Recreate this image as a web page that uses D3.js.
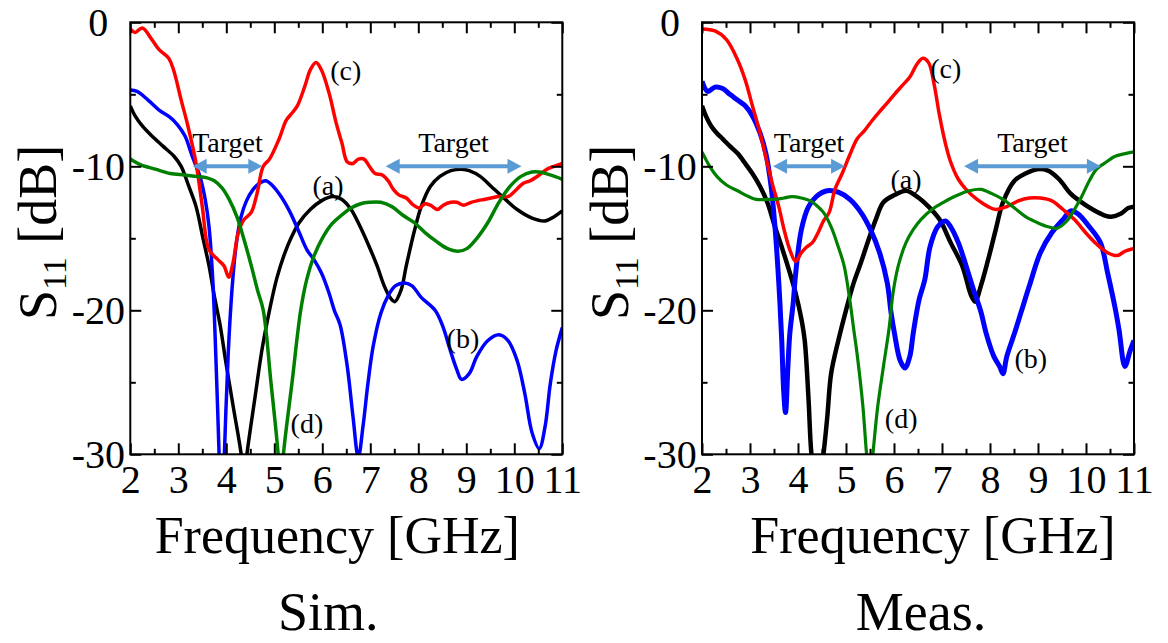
<!DOCTYPE html>
<html>
<head>
<meta charset="utf-8">
<script src="https://cdn.jsdelivr.net/npm/d3@7"></script>
<style>
  body { margin: 0; background: #fff; }
  svg { display: block; }
  text { font-family: "Liberation Serif", "Times New Roman", serif; fill: #000; }
</style>
</head>
<body>
<svg id="chart" width="1168" height="643"></svg>
<script>
// ---- axis ticks ----
const freqTicks = [2, 3, 4, 5, 6, 7, 8, 9, 10, 11];
const freqMinorTicks = [2.5, 3.5, 4.5, 5.5, 6.5, 7.5, 8.5, 9.5, 10.5];
const dbTicks = [0, -10, -20, -30];
const dbMinorTicks = [-5, -15, -25];

// ---- series: [frequency GHz, S11 dB] ----
const simA = [[2,-5.8],[2.1,-6.5],[2.25,-7.2],[2.45,-7.9],[2.68,-8.6],[2.91,-9.3],[3.06,-10.0],[3.22,-11.4],[3.37,-12.8],[3.52,-15.1],[3.64,-16.9],[3.75,-19.0],[3.87,-21.0],[4.0,-23.8],[4.15,-26.8],[4.31,-30],[4.37,-32],[4.43,-30],[4.6,-26],[4.75,-22.6],[4.9,-20],[5.05,-17.8],[5.2,-16.2],[5.36,-14.9],[5.52,-13.9],[5.75,-13.0],[5.98,-12.4],[6.22,-12.1],[6.41,-12.3],[6.6,-13.0],[6.79,-14.2],[6.98,-15.6],[7.14,-16.9],[7.29,-18.3],[7.41,-19.1],[7.51,-19.4],[7.64,-18.6],[7.75,-16.9],[7.91,-14.6],[8.06,-12.8],[8.25,-11.4],[8.45,-10.7],[8.68,-10.3],[8.91,-10.2],[9.06,-10.3],[9.29,-10.7],[9.52,-11.4],[9.75,-12.1],[10.06,-13.0],[10.37,-13.6],[10.64,-13.8],[10.83,-13.5],[11,-13.1]];
const simB = [[2,-4.7],[2.14,-4.8],[2.37,-5.4],[2.6,-6.1],[2.83,-6.6],[2.98,-7.1],[3.14,-7.9],[3.29,-9.3],[3.45,-10.7],[3.56,-12.3],[3.64,-14.2],[3.72,-18],[3.78,-23],[3.85,-30],[3.905,-36],[3.96,-30],[4.04,-23],[4.12,-18.5],[4.2,-15.6],[4.3,-13.6],[4.42,-12.4],[4.56,-11.6],[4.68,-11.2],[4.82,-11.0],[4.95,-11.3],[5.14,-12.1],[5.33,-13.2],[5.52,-14.6],[5.68,-15.8],[5.83,-16.5],[5.98,-17.4],[6.14,-18.8],[6.25,-20],[6.37,-21.0],[6.52,-23.9],[6.64,-27.4],[6.75,-30.2],[6.85,-28.0],[6.95,-25.1],[7.06,-22.5],[7.22,-20.2],[7.37,-19.0],[7.52,-18.3],[7.72,-18.1],[7.87,-18.3],[8.06,-19.1],[8.35,-20.0],[8.52,-21.2],[8.64,-22.5],[8.8,-24.1],[8.9,-24.8],[9.06,-24.4],[9.22,-23.2],[9.45,-22.1],[9.68,-21.7],[9.87,-22.1],[10.06,-23.5],[10.22,-25.8],[10.37,-28.5],[10.52,-29.6],[10.64,-28.1],[10.75,-25.1],[10.87,-22.8],[11,-21.2]];
const simC = [[2,-0.46],[2.1,-0.7],[2.25,-0.4],[2.45,-1.2],[2.6,-1.9],[2.8,-2.5],[2.9,-3.3],[3.06,-5.4],[3.2,-7.2],[3.37,-9.8],[3.5,-12.8],[3.64,-15.8],[3.83,-16.5],[3.95,-16.9],[4.05,-17.7],[4.14,-16.7],[4.25,-14.6],[4.37,-13.7],[4.52,-13.2],[4.64,-11.9],[4.77,-10.0],[4.9,-9.5],[5.1,-8.1],[5.25,-6.8],[5.37,-6.3],[5.48,-5.8],[5.64,-4.4],[5.75,-3.3],[5.87,-2.8],[5.98,-3.3],[6.14,-4.9],[6.29,-7.0],[6.41,-8.4],[6.52,-9.7],[6.64,-9.8],[6.75,-9.5],[6.87,-9.5],[6.98,-10.0],[7.1,-10.5],[7.25,-10.6],[7.37,-11.0],[7.48,-11.6],[7.6,-12.0],[7.75,-12.2],[7.9,-12.7],[8.02,-12.9],[8.14,-12.6],[8.25,-12.7],[8.4,-13.0],[8.52,-12.7],[8.68,-12.5],[8.8,-12.5],[8.95,-12.7],[9.1,-12.5],[9.22,-12.4],[9.37,-12.3],[9.52,-12.2],[9.68,-12.1],[9.87,-12.1],[10.02,-11.7],[10.18,-11.2],[10.33,-11.0],[10.52,-10.6],[10.68,-10.2],[10.83,-10.0],[11,-9.8]];
const simD = [[2,-9.5],[2.22,-9.9],[2.52,-10.2],[2.83,-10.5],[3.14,-10.6],[3.37,-10.7],[3.6,-10.8],[3.75,-11.0],[3.91,-11.5],[4.06,-12.3],[4.22,-13.5],[4.37,-15.1],[4.52,-16.9],[4.65,-18.6],[4.77,-20],[4.93,-25],[5.08,-30],[5.13,-33],[5.19,-30],[5.37,-25],[5.55,-20],[5.68,-17.8],[5.83,-16.2],[6.0,-15.0],[6.2,-14.0],[6.4,-13.4],[6.6,-12.9],[6.8,-12.6],[6.98,-12.5],[7.22,-12.5],[7.45,-12.8],[7.68,-13.4],[7.91,-13.9],[8.14,-14.6],[8.37,-15.2],[8.6,-15.7],[8.83,-15.9],[9.02,-15.7],[9.22,-15.0],[9.45,-13.9],[9.68,-12.5],[9.91,-11.4],[10.14,-10.7],[10.37,-10.4],[10.52,-10.4],[10.75,-10.6],[11,-10.9]];

const measA = [[2,-5.8],[2.08,-6.5],[2.19,-7.2],[2.31,-7.7],[2.43,-8.1],[2.58,-8.6],[2.74,-9.1],[2.9,-9.8],[3.05,-10.5],[3.21,-11.4],[3.36,-12.5],[3.52,-14.2],[3.68,-15.8],[3.83,-17.4],[3.95,-18.8],[4.07,-20.6],[4.14,-22.1],[4.22,-26.2],[4.28,-30],[4.4,-33],[4.53,-30],[4.61,-27.4],[4.69,-24.4],[4.84,-22.1],[5.0,-20],[5.16,-18.1],[5.31,-16.7],[5.47,-15.1],[5.62,-13.7],[5.78,-12.5],[6.01,-12.0],[6.25,-11.7],[6.48,-12.1],[6.72,-12.8],[6.95,-13.7],[7.18,-15.3],[7.42,-16.9],[7.61,-19.0],[7.69,-19.4],[7.81,-18.3],[7.96,-16.5],[8.12,-14.4],[8.27,-12.5],[8.51,-11.0],[8.74,-10.5],[8.98,-10.2],[9.21,-10.3],[9.44,-10.9],[9.68,-11.9],[9.91,-12.5],[10.14,-13.0],[10.38,-13.4],[10.53,-13.5],[10.72,-13.3],[10.88,-12.9],[11,-12.8]];
const measB = [[2,-4.1],[2.12,-4.8],[2.27,-4.5],[2.43,-4.6],[2.58,-5.0],[2.74,-5.4],[2.9,-5.8],[3.05,-6.5],[3.21,-7.7],[3.33,-9.1],[3.44,-11.4],[3.52,-14.2],[3.6,-18.1],[3.66,-22],[3.7,-25.5],[3.74,-27.1],[3.79,-23.9],[3.83,-21.6],[3.9,-19.5],[3.95,-17.5],[4.07,-14.4],[4.22,-12.8],[4.38,-12.1],[4.61,-11.7],[4.84,-11.8],[5.08,-12.3],[5.31,-13.2],[5.51,-14.4],[5.7,-16.0],[5.86,-18.1],[5.94,-20.2],[6.01,-21.6],[6.13,-23.5],[6.23,-24.0],[6.33,-23.2],[6.4,-21.6],[6.52,-19.3],[6.64,-17.9],[6.75,-15.6],[6.91,-14.2],[7.07,-13.8],[7.18,-14.2],[7.34,-15.3],[7.5,-16.9],[7.65,-18.5],[7.81,-20.1],[7.92,-21.6],[8.08,-23.2],[8.2,-23.9],[8.27,-24.4],[8.35,-23.2],[8.51,-21.6],[8.66,-20],[8.82,-18.3],[9.05,-16.0],[9.29,-14.6],[9.52,-13.7],[9.68,-13.1],[9.83,-13.3],[10.07,-14.2],[10.3,-15.3],[10.45,-17.4],[10.61,-19.9],[10.69,-21.4],[10.81,-23.9],[10.92,-22.8],[11,-22.1]];
const measC = [[2,-0.46],[2.27,-0.6],[2.51,-1.2],[2.74,-2.6],[2.9,-4.0],[3.05,-5.8],[3.21,-7.7],[3.36,-9.8],[3.48,-11.4],[3.6,-12.8],[3.71,-14.4],[3.83,-15.8],[3.95,-16.6],[4.07,-16.0],[4.18,-15.6],[4.3,-15.3],[4.42,-14.6],[4.53,-13.8],[4.65,-13.2],[4.77,-11.6],[4.92,-10.5],[5.08,-9.2],[5.23,-8.1],[5.39,-7.5],[5.55,-6.8],[5.7,-6.2],[5.86,-5.6],[6.01,-5.0],[6.17,-4.4],[6.33,-3.8],[6.48,-2.9],[6.6,-2.5],[6.72,-2.8],[6.83,-4.2],[6.95,-6.5],[7.07,-8.4],[7.18,-9.7],[7.34,-10.9],[7.5,-11.6],[7.73,-12.3],[7.96,-12.8],[8.12,-13.0],[8.35,-12.8],[8.59,-12.4],[8.82,-12.2],[9.05,-12.2],[9.29,-12.4],[9.52,-13.0],[9.76,-13.7],[9.99,-14.6],[10.22,-15.4],[10.45,-16.0],[10.65,-16.2],[10.81,-15.9],[11,-15.7]];
const measD = [[2,-9.0],[2.16,-10.0],[2.31,-10.7],[2.51,-11.3],[2.74,-11.7],[2.97,-12.1],[3.13,-12.3],[3.36,-12.3],[3.52,-12.3],[3.71,-12.2],[3.87,-12.1],[4.07,-12.2],[4.26,-12.4],[4.38,-12.7],[4.53,-13.2],[4.69,-14.2],[4.84,-15.6],[4.96,-16.9],[5.08,-19.3],[5.16,-21.3],[5.23,-23],[5.35,-26.6],[5.43,-30],[5.5,-32],[5.56,-30],[5.66,-26.7],[5.78,-23.9],[5.9,-21.2],[5.98,-18.8],[6.09,-16.9],[6.25,-15.3],[6.4,-14.4],[6.56,-13.7],[6.79,-13.0],[7.03,-12.5],[7.26,-12.1],[7.57,-11.7],[7.81,-11.6],[8.04,-11.9],[8.27,-12.3],[8.51,-12.9],[8.74,-13.5],[8.98,-13.9],[9.21,-14.2],[9.4,-14.3],[9.6,-13.8],[9.76,-13.0],[9.91,-12.1],[10.07,-11.0],[10.22,-10.2],[10.38,-9.8],[10.61,-9.3],[10.84,-9.1],[11,-9.0]];

// ---- annotations ----
const curveLabels = ["(a)", "(b)", "(c)", "(d)"];
const simLabelPos = [[6.12, -12.0], [8.93, -22.6], [6.49, -4.0], [5.68, -28.5]];
const measLabelPos = [[6.25, -11.6], [8.85, -24.0], [7.08, -3.9], [6.15, -28.2]];
const targetText = "Target";
const targetLevel = -10;
const simTargetBands = [[3.3, 4.75], [7.32, 10.15]];
const measTargetBands = [[3.48, 4.98], [7.46, 10.31]];
const panelTitles = ["Sim.", "Meas."];
const xTitle = "Frequency [GHz]";

// ---- styling ----
const colors = ["#000000", "#0000ff", "#ff0000", "#008000"];
const simWidths = [3.5, 3.5, 3.5, 3.5];
const measWidths = [4.5, 5, 3.5, 3.2];
const arrowColor = "#5b9bd5";

const svg = d3.select("#chart");
const plotSize = 432, plotTop = 22.3;

const panels = [
  { left: 130.3, series: [simA, simB, simC, simD], widths: simWidths, labels: simLabelPos, bands: simTargetBands, title: panelTitles[0], xTitleShift: -9, yTitleX: 48 },
  { left: 702,   series: [measA, measB, measC, measD], widths: measWidths, labels: measLabelPos, bands: measTargetBands, title: panelTitles[1], xTitleShift: 15, yTitleX: 620 }
];

panels.forEach((p, i) => {
  const x = d3.scaleLinear().domain([2, 11]).range([p.left, p.left + plotSize]);
  const y = d3.scaleLinear().domain([-30, 0]).range([plotTop + plotSize, plotTop]);
  const g = svg.append("g");

  const clipId = "clip" + i;
  svg.append("clipPath").attr("id", clipId).append("rect")
    .attr("x", p.left).attr("y", plotTop).attr("width", plotSize).attr("height", plotSize);

  // curves
  const line = d3.line().x(d => x(d[0])).y(d => y(d[1])).curve(d3.curveCatmullRom.alpha(0.5));
  const curves = g.append("g").attr("clip-path", `url(#${clipId})`);
  p.series.forEach((s, k) => {
    curves.append("path").datum(s).attr("d", line)
      .attr("fill", "none").attr("stroke", colors[k])
      .attr("stroke-width", p.widths[k]).attr("stroke-linejoin", "round");
  });

  // target arrows
  p.bands.forEach(b => {
    const y0 = y(targetLevel), x0 = x(b[0]), x1 = x(b[1]), hl = 14, hw = 7.5;
    g.append("line").attr("x1", x0 + hl - 2).attr("x2", x1 - hl + 2).attr("y1", y0).attr("y2", y0)
      .attr("stroke", arrowColor).attr("stroke-width", 4);
    g.append("path").attr("d", `M${x0},${y0}L${x0 + hl},${y0 - hw}L${x0 + hl},${y0 + hw}Z`).attr("fill", arrowColor);
    g.append("path").attr("d", `M${x1},${y0}L${x1 - hl},${y0 - hw}L${x1 - hl},${y0 + hw}Z`).attr("fill", arrowColor);
    g.append("text").attr("x", (x0 + x1) / 2).attr("y", y0 - 14)
      .attr("text-anchor", "middle").attr("font-size", 28).text(targetText);
  });

  // curve labels
  p.labels.forEach((pos, k) => {
    g.append("text").attr("x", x(pos[0])).attr("y", y(pos[1]))
      .attr("text-anchor", "middle").attr("font-size", 28).text(curveLabels[k]);
  });

  // frame
  g.append("rect").attr("x", p.left).attr("y", plotTop).attr("width", plotSize).attr("height", plotSize)
    .attr("fill", "none").attr("stroke", "#000").attr("stroke-width", 2);

  // ticks (inward) on all four sides
  const axisStyle = sel => { sel.select(".domain").remove(); sel.selectAll("line").attr("stroke", "#000").attr("stroke-width", 2); };
  const bottomAx = g.append("g").attr("transform", `translate(0,${plotTop + plotSize})`)
    .call(d3.axisBottom(x).tickValues(freqTicks).tickSizeInner(-11).tickSizeOuter(0).tickPadding(10).tickFormat(d3.format("d")));
  bottomAx.call(axisStyle);
  bottomAx.selectAll("text").attr("font-size", 40).attr("font-family", "Liberation Serif");
  g.append("g").attr("transform", `translate(0,${plotTop + plotSize})`)
    .call(d3.axisBottom(x).tickValues(freqMinorTicks).tickSizeInner(-5.5).tickSizeOuter(0).tickFormat(""))
    .call(axisStyle);
  g.append("g").attr("transform", `translate(0,${plotTop})`)
    .call(d3.axisTop(x).tickValues(freqTicks).tickSizeInner(-11).tickSizeOuter(0).tickFormat(""))
    .call(axisStyle);
  g.append("g").attr("transform", `translate(0,${plotTop})`)
    .call(d3.axisTop(x).tickValues(freqMinorTicks).tickSizeInner(-5.5).tickSizeOuter(0).tickFormat(""))
    .call(axisStyle);

  const leftAx = g.append("g").attr("transform", `translate(${p.left},0)`)
    .call(d3.axisLeft(y).tickValues(dbTicks).tickSizeInner(-11).tickSizeOuter(0).tickPadding(32).tickFormat(d => String(d)));
  leftAx.call(axisStyle);
  leftAx.selectAll("text").attr("font-size", 40).attr("font-family", "Liberation Serif")
    .attr("text-anchor", "middle");
  g.append("g").attr("transform", `translate(${p.left},0)`)
    .call(d3.axisLeft(y).tickValues(dbMinorTicks).tickSizeInner(-5.5).tickSizeOuter(0).tickFormat(""))
    .call(axisStyle);
  g.append("g").attr("transform", `translate(${p.left + plotSize},0)`)
    .call(d3.axisRight(y).tickValues(dbTicks).tickSizeInner(-11).tickSizeOuter(0).tickFormat(""))
    .call(axisStyle);
  g.append("g").attr("transform", `translate(${p.left + plotSize},0)`)
    .call(d3.axisRight(y).tickValues(dbMinorTicks).tickSizeInner(-5.5).tickSizeOuter(0).tickFormat(""))
    .call(axisStyle);

  // axis titles
  g.append("text").attr("x", p.left + plotSize / 2 + p.xTitleShift).attr("y", 553)
    .attr("text-anchor", "middle").attr("font-size", 52).text(xTitle);

  const yt = g.append("text")
    .attr("transform", `translate(${p.yTitleX + 8},${plotTop + plotSize / 2 - 6}) rotate(-90)`)
    .attr("text-anchor", "middle").attr("font-size", 54);
  yt.append("tspan").text("S");
  yt.append("tspan").attr("font-size", 34).attr("dy", 10).text("11");
  yt.append("tspan").attr("dy", -10).text(" [dB]");

  // panel title
  g.append("text").attr("x", p.left + plotSize / 2 - 18 + i * 21).attr("y", 630)
    .attr("text-anchor", "middle").attr("font-size", 54).text(p.title);
});
</script>
</body>
</html>
